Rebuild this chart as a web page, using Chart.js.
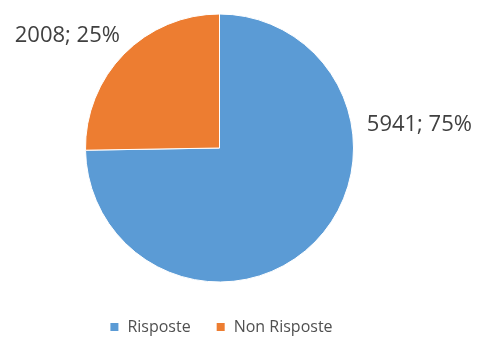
<!DOCTYPE html>
<html>
<head>
<meta charset="utf-8">
<script src="https://cdn.jsdelivr.net/npm/chart.js@4"></script>
<style>
  html, body { margin: 0; padding: 0; background: #fff; }
  #wrap { width: 483px; height: 338px; position: relative; }
</style>
</head>
<body>
<div id="wrap"><canvas id="pie"></canvas></div>
<script>
/* data */
var labels = ["Risposte", "Non Risposte"];
var values = [5941, 2008];
var percents = [75, 25];

/* styling */
var colors = ["#5B9BD5", "#ED7D31"];
var FONT = "'Open Sans', sans-serif";
/* angle (deg, canvas coords) where each data label sits outside the pie */
var labelAngles = [-9, -135];

/* draws "value; pct%" labels outside slices + legend under the pie */
var outsideLabels = {
  id: "outsideLabels",
  afterDraw: function (chart) {
    var ctx = chart.ctx;
    var meta = chart.getDatasetMeta(0);
    ctx.save();
    ctx.font = "22px " + FONT;
    ctx.fillStyle = "#404040";
    ctx.textBaseline = "middle";
    meta.data.forEach(function (arc, i) {
      var a = labelAngles[i] * Math.PI / 180;
      var r = arc.outerRadius + 4;
      var x = arc.x + Math.cos(a) * r;
      var y = arc.y + Math.sin(a) * r;
      var txt = values[i] + "; " + percents[i] + "%";
      if (Math.cos(a) < 0) {
        ctx.textAlign = "right";
        x -= 2;
        y -= 15;
      } else {
        ctx.textAlign = "left";
        x += 11;
        y -= 2;
      }
      ctx.fillText(txt, x, y);
    });

    /* legend */
    ctx.font = "16px " + FONT;
    ctx.textAlign = "left";
    var box = 8, gap = 9, itemGap = 26;
    var widths = labels.map(function (l) { return box + gap + ctx.measureText(l).width; });
    var full = widths.reduce(function (s, w) { return s + w; }, 0) + itemGap * (labels.length - 1);
    var lx = 221.5 - full / 2;
    var ly = 327;
    labels.forEach(function (l, i) {
      ctx.fillStyle = colors[i];
      ctx.fillRect(lx, ly - box / 2, box, box);
      ctx.fillStyle = "#505050";
      ctx.fillText(l, lx + box + gap, ly);
      lx += widths[i] + itemGap;
    });
    ctx.restore();
  }
};

new Chart(document.getElementById("pie"), {
  type: "pie",
  data: {
    labels: labels,
    datasets: [{
      data: values,
      backgroundColor: colors,
      borderColor: "#ffffff",
      borderWidth: 1
    }]
  },
  options: {
    responsive: true,
    maintainAspectRatio: false,
    animation: false,
    layout: { padding: { top: 13, left: 85, right: 129, bottom: 55 } },
    plugins: {
      legend: { display: false },
      tooltip: { enabled: false }
    }
  },
  plugins: [outsideLabels]
});
</script>
</body>
</html>
